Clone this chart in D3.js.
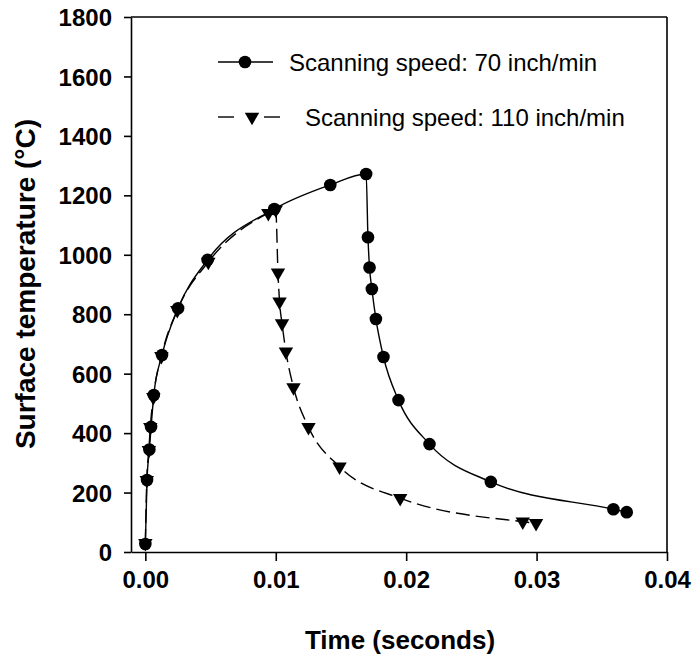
<!DOCTYPE html>
<html>
<head>
<meta charset="utf-8">
<script src="https://cdn.jsdelivr.net/npm/d3@7"></script>
<style>
  html, body { margin: 0; padding: 0; background: #fff; }
  svg { display: block; font-family: "Liberation Sans", Arial, sans-serif; }
</style>
</head>
<body>
<svg id="chart" width="693" height="656"></svg>
<script>
// Surface temperature history at two scanning speeds
const speed70Time = [0.0000, 0.00013, 0.00031, 0.00044, 0.00065, 0.00128, 0.00251, 0.00477, 0.00989,
  0.01418, 0.01693, 0.01707, 0.01719, 0.01737, 0.01768, 0.01826, 0.01941, 0.02179, 0.02649, 0.03589, 0.03691];
const speed70Temp = [27, 242, 345, 421, 528, 663, 820, 983, 1154,
  1235, 1272, 1059, 957, 885, 784, 656, 511, 363, 236, 144, 134];

const speed110Time = [0.0000, 0.00011, 0.00027, 0.00038, 0.00061, 0.00123, 0.00245, 0.00483, 0.00943, 0.0100,
  0.01017, 0.01029, 0.01048, 0.01078, 0.01136, 0.01251, 0.01489, 0.01954, 0.02894, 0.02996];
const speed110Temp = [30, 242, 343, 420, 521, 659, 814, 976, 1140, 1152,
  940, 842, 769, 674, 554, 420, 287, 181, 102, 97];

const xTicks = [0.00, 0.01, 0.02, 0.03, 0.04];
const yTicks = [0, 200, 400, 600, 800, 1000, 1200, 1400, 1600, 1800];
const seriesLabels = ["Scanning speed: 70 inch/min", "Scanning speed: 110 inch/min"];
const xTitle = "Time (seconds)";
const yTitle = "Surface temperature (\u00B0C)";

const svg = d3.select("#chart");
const x = d3.scaleLinear().domain([-0.0011, 0.04]).range([131, 667]);
const y = d3.scaleLinear().domain([0, 1800]).range([552, 17]);

// frame
const frame = svg.append("g").attr("stroke", "#000").attr("stroke-width", 1.6);
frame.append("line").attr("x1", x.range()[0]).attr("x2", x.range()[1]).attr("y1", y.range()[1]).attr("y2", y.range()[1]);
frame.append("line").attr("x1", x.range()[1]).attr("x2", x.range()[1]).attr("y1", y.range()[0]).attr("y2", y.range()[1]);

// axes
const xAxis = svg.append("g").attr("transform", `translate(0,${y.range()[0]})`)
  .call(d3.axisBottom(x).tickValues(xTicks).tickFormat(d3.format(".2f")).tickSizeInner(9).tickSizeOuter(0).tickPadding(10));
const yAxis = svg.append("g").attr("transform", `translate(${x.range()[0]},0)`)
  .call(d3.axisLeft(y).tickValues(yTicks).tickFormat(d3.format("d")).tickSizeInner(7).tickSizeOuter(0).tickPadding(12));
[xAxis, yAxis].forEach(g => {
  g.selectAll("path, line").attr("stroke", "#000").attr("stroke-width", 1.6);
  g.selectAll("text").attr("fill", "#000").style("font-size", "24px").style("font-weight", "bold")
    .style("font-family", "'Liberation Sans', Arial, sans-serif");
});
yAxis.selectAll("text").attr("dy", "0.36em");

// axis titles
svg.append("text").attr("x", 400).attr("y", 649).attr("text-anchor", "middle")
  .style("font-size", "26px").style("font-weight", "bold").text(xTitle);
svg.append("text").attr("transform", "translate(35,284) rotate(-90)").attr("text-anchor", "middle")
  .style("font-size", "28px").style("font-weight", "bold").text(yTitle);

// series
const s70 = speed70Time.map((t, i) => [t, speed70Temp[i]]);
const s110 = speed110Time.map((t, i) => [t, speed110Temp[i]]);
const line = d3.line().x(d => x(d[0])).y(d => y(d[1])).curve(d3.curveMonotoneX);

svg.append("path").datum(s70).attr("d", line).attr("fill", "none").attr("stroke", "#000").attr("stroke-width", 1.4);
svg.append("path").datum(s110).attr("d", line).attr("fill", "none").attr("stroke", "#000").attr("stroke-width", 1.4)
  .attr("stroke-dasharray", "14,6");

const tri = d3.symbol().type(d3.symbolTriangle).size(90);
svg.append("g").selectAll("path").data(s110).join("path")
  .attr("d", tri).attr("transform", d => `translate(${x(d[0])},${y(d[1])}) rotate(180)`).attr("fill", "#000");
svg.append("g").selectAll("circle").data(s70).join("circle")
  .attr("cx", d => x(d[0])).attr("cy", d => y(d[1])).attr("r", 6.3).attr("fill", "#000");

// legend
const lg = svg.append("g");
lg.append("line").attr("x1", 218).attr("x2", 273).attr("y1", 62).attr("y2", 62).attr("stroke", "#000").attr("stroke-width", 1.4);
lg.append("circle").attr("cx", 245).attr("cy", 62).attr("r", 6.3).attr("fill", "#000");
lg.append("text").attr("x", 289).attr("y", 70.5).style("font-size", "24px").text(seriesLabels[0]);
lg.append("line").attr("x1", 218).attr("x2", 234).attr("y1", 117).attr("y2", 117).attr("stroke", "#000").attr("stroke-width", 1.4);
lg.append("line").attr("x1", 264).attr("x2", 280).attr("y1", 117).attr("y2", 117).attr("stroke", "#000").attr("stroke-width", 1.4);
lg.append("path").attr("d", tri).attr("transform", "translate(252,117) rotate(180)").attr("fill", "#000");
lg.append("text").attr("x", 305).attr("y", 125.5).style("font-size", "24px").text(seriesLabels[1]);
</script>
</body>
</html>
